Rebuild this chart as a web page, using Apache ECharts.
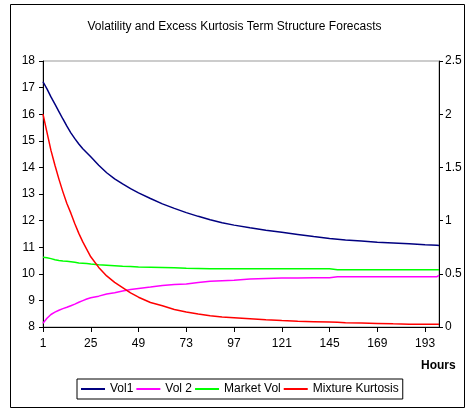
<!DOCTYPE html>
<html>
<head>
<meta charset="utf-8">
<script src="https://cdn.jsdelivr.net/npm/echarts@6/dist/echarts.min.js"></script>
<style>html,body{margin:0;padding:0;background:#fff}#c{width:469px;height:411px}</style>
</head>
<body>
<div id="c"></div>
<script>
var titleText = 'Volatility and Excess Kurtosis Term Structure Forecasts';
var seriesNames = ['Vol1', 'Vol 2', 'Market Vol', 'Mixture Kurtosis'];
var lastHour = 200;
var xTickStep = 24;
var leftTicks = [8, 18, 1];
var rightTicks = [0, 2.5, 0.5];

var hours = [1,3,5,7,9,11,13,15,17,19,21,23,25,29,33,37,41,45,49,55,61,67,73,79,85,91,97,105,113,121,129,137,145,149,153,161,169,177,185,193,199,200];
var vol1 = [17.22,16.95,16.65,16.38,16.1,15.82,15.55,15.3,15.08,14.88,14.7,14.55,14.4,14.08,13.8,13.57,13.38,13.2,13.04,12.83,12.63,12.46,12.3,12.16,12.03,11.92,11.83,11.73,11.64,11.56,11.48,11.4,11.33,11.3,11.27,11.23,11.19,11.16,11.13,11.09,11.07,11.06];
var vol2 = [8.14,8.33,8.47,8.56,8.63,8.69,8.74,8.8,8.86,8.93,8.99,9.05,9.1,9.16,9.24,9.29,9.35,9.41,9.45,9.5,9.56,9.6,9.62,9.67,9.72,9.74,9.76,9.8,9.82,9.84,9.84,9.85,9.85,9.89,9.89,9.89,9.89,9.89,9.89,9.89,9.89,9.94];
var marketVol = [10.62,10.6,10.57,10.53,10.5,10.48,10.47,10.45,10.43,10.41,10.4,10.39,10.37,10.34,10.32,10.3,10.28,10.27,10.26,10.25,10.24,10.23,10.21,10.2,10.19,10.19,10.19,10.19,10.19,10.19,10.19,10.19,10.19,10.15,10.15,10.15,10.15,10.15,10.15,10.15,10.15,10.15];
var kurtosis = [2.0,1.83,1.66,1.52,1.39,1.27,1.16,1.07,0.97,0.88,0.8,0.73,0.66,0.56,0.48,0.42,0.37,0.32,0.28,0.23,0.2,0.165,0.14,0.122,0.105,0.095,0.088,0.078,0.068,0.06,0.053,0.05,0.046,0.044,0.04,0.037,0.034,0.03,0.027,0.025,0.025,0.025];

var categories = [];
for (var h = 1; h <= lastHour; h++) categories.push(String(h));
function pairs(vals) { return hours.map(function (hh, i) { return [hh - 1, vals[i]]; }); }

var font = 'Liberation Sans, Arial, sans-serif';
var colors = ['#000080', '#ff00ff', '#00ff00', '#ff0000'];
var chart = echarts.init(document.getElementById('c'), null, {renderer: 'canvas'});
chart.setOption({
  animation: false,
  backgroundColor: '#fff',
  color: colors,
  title: {
    text: titleText, left: 'center', top: 16,
    textStyle: {fontFamily: font, fontSize: 12, fontWeight: 'normal', color: '#000'}
  },
  graphic: [
    {type: 'rect', shape: {x: 10.5, y: 4.5, width: 454, height: 403}, style: {fill: null, stroke: '#000', lineWidth: 1}, silent: true},
    {type: 'text', left: 421, top: 360, style: {text: 'Hours', font: 'bold 12px ' + font, fill: '#000'}}
  ],
  legend: {
    left: 77, top: 379, orient: 'horizontal',
    itemWidth: 24, itemHeight: 2, itemGap: 3, icon: 'rect',
    padding: [4, 4, 4, 4],
    borderColor: '#000', borderWidth: 1,
    textStyle: {fontFamily: font, fontSize: 12, color: '#000'},
    data: seriesNames
  },
  grid: {left: 43, right: 30, top: 61, bottom: 84, show: true, borderColor: '#999', borderWidth: 1, outerBoundsMode: 'none'},
  xAxis: {
    type: 'category', data: categories, boundaryGap: false,
    axisLine: {lineStyle: {color: '#000', width: 1}},
    axisTick: {show: true, interval: xTickStep - 1, length: 5, lineStyle: {color: '#000'}},
    axisLabel: {interval: xTickStep - 1, margin: 11, fontFamily: font, fontSize: 12, color: '#000'},
    splitLine: {show: false}
  },
  yAxis: [
    {
      type: 'value', min: leftTicks[0], max: leftTicks[1], interval: leftTicks[2], position: 'left',
      axisLine: {show: true, lineStyle: {color: '#000'}},
      axisTick: {show: true, length: 4, lineStyle: {color: '#000'}},
      axisLabel: {margin: 8, fontFamily: font, fontSize: 12, color: '#000'},
      splitLine: {show: false}
    },
    {
      type: 'value', min: rightTicks[0], max: rightTicks[1], interval: rightTicks[2], position: 'right',
      axisLine: {show: true, lineStyle: {color: '#000'}},
      axisTick: {show: true, length: 4, lineStyle: {color: '#000'}},
      axisLabel: {margin: 6, fontFamily: font, fontSize: 12, color: '#000'},
      splitLine: {show: false}
    }
  ],
  series: [
    {name: seriesNames[0], type: 'line', yAxisIndex: 0, data: pairs(vol1), showSymbol: false, symbol: 'none', lineStyle: {width: 1.5, color: colors[0]}},
    {name: seriesNames[1], type: 'line', yAxisIndex: 0, data: pairs(vol2), showSymbol: false, symbol: 'none', lineStyle: {width: 1.5, color: colors[1]}},
    {name: seriesNames[2], type: 'line', yAxisIndex: 0, data: pairs(marketVol), showSymbol: false, symbol: 'none', lineStyle: {width: 1.5, color: colors[2]}},
    {name: seriesNames[3], type: 'line', yAxisIndex: 1, data: pairs(kurtosis), showSymbol: false, symbol: 'none', lineStyle: {width: 1.5, color: colors[3]}}
  ]
});
</script>
</body>
</html>
